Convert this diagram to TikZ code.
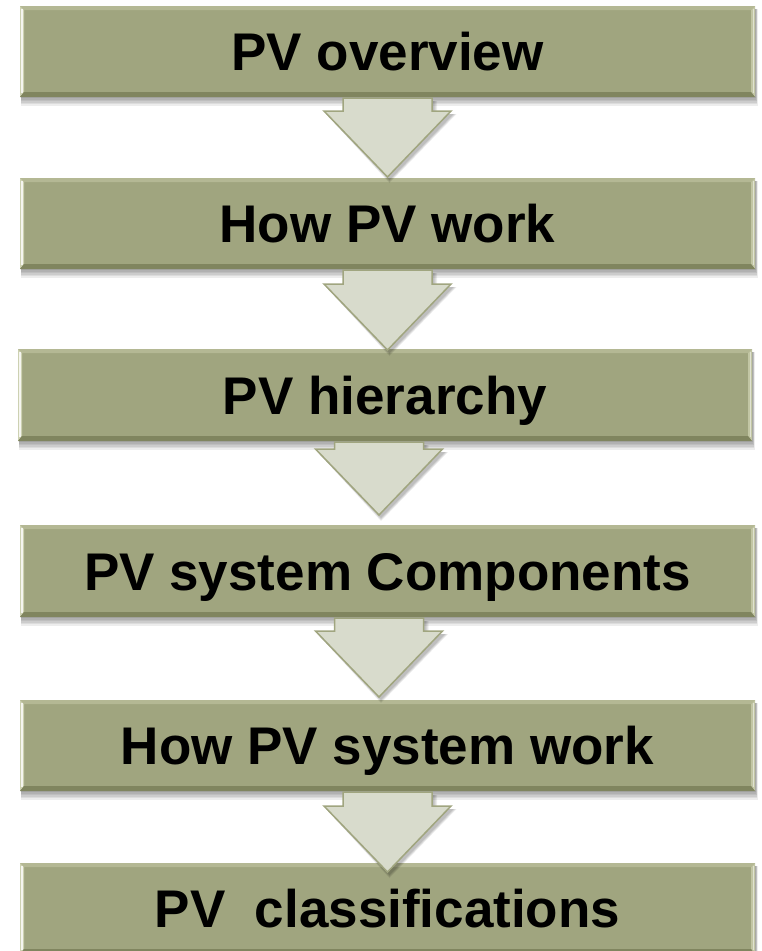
\documentclass[tikz,border=0pt]{standalone}
\usepackage{fontspec}
\setmainfont{Liberation Sans}
\usetikzlibrary{calc}
\definecolor{boxfill}{HTML}{A0A57F}
\definecolor{bvleft}{HTML}{CDD1B2}
\definecolor{bvtop}{HTML}{B4B894}
\definecolor{bvright}{HTML}{C2C6A4}
\definecolor{bvbottom}{HTML}{80855F}
\definecolor{arrfill}{HTML}{D8DBCC}
\definecolor{arrline}{HTML}{A0A57F}
\tikzset{
  pvbox/.style={rectangle, fill=boxfill, draw=none, inner sep=0pt, outer sep=0pt,
    font=\fontsize{53}{60}\selectfont\bfseries, text height=38pt, text depth=0pt},
  flowarr/.style={fill=arrfill, draw=arrline, line width=1.5pt, line join=miter},
  shadowfill/.style={fill=black, opacity=0.07},
}
\newcommand{\pvboxdraw}[6]{%
  \foreach \k in {0,...,5} {\fill[shadowfill] (#2+1,#3+3) rectangle (#4+1+0.3*\k,#5+1+1.5*\k);}
  \node[pvbox, minimum width={(#4-#2)*1pt}, minimum height={(#5-#3)*1pt}] (#1) at ({(#2+#4)/2},{(#3+#5)/2}) {#6};
  \fill[bvtop] (#1.north west) -- (#1.north east) -- ++(-4,4) -- ($(#1.north west)+(4,4)$) -- cycle;
  \fill[bvleft] (#1.north west) -- ($(#1.north west)+(4,4)$) -- ($(#1.south west)+(4,-5)$) -- (#1.south west) -- cycle;
  \fill[bvright] (#1.north east) -- (#1.south east) -- ++(-4,-5) -- ($(#1.north east)+(-4,4)$) -- cycle;
  \fill[bvbottom] (#1.south west) -- (#1.south east) -- ++(-4,-5) -- ($(#1.south west)+(4,-5)$) -- cycle;
  \draw[white, opacity=0.8, line width=1.2pt] ($(#1.north west)+(2,3)$) -- ($(#1.south west)+(2,-4)$);
  \draw[white, opacity=0.5, line width=1pt] ($(#1.north east)+(-2,3)$) -- ($(#1.south east)+(-2,-4)$);
}
% #1 centre x, #2 half shaft, #3 shaft top y, #4 head y, #5 tip y
\newcommand{\flowarrowdraw}[5]{%
  \foreach \k in {0,...,3} {\fill[shadowfill] (#1-#2+2,#3+3) -- (#1+#2+2+\k,#3+3) -- (#1+#2+2+\k,#4+3) -- (#1+64+2+\k,#4+3) -- (#1+2,#5+3+\k) -- (#1-63.5+2,#4+3) -- (#1-#2+2,#4+3) -- cycle;}
  \draw[flowarr] (#1-#2,#3) -- (#1+#2,#3) -- (#1+#2,#4) -- (#1+63.5,#4) -- (#1,#5) -- (#1-63.5,#4) -- (#1-#2,#4) -- cycle;
}
\begin{document}
\begin{tikzpicture}[x=1pt,y=-1pt]
\useasboundingbox (0,0) rectangle (761,951);
\pvboxdraw{b1}{20}{6}{755}{97}{PV overview}
\pvboxdraw{b2}{20}{178}{755}{269}{How PV work}
\pvboxdraw{b3}{18}{349}{752}{441}{PV hierarchy}
\pvboxdraw{b4}{20}{525}{755}{617}{PV system Components}
\pvboxdraw{b5}{20}{700}{755}{791}{How PV system work}
\pvboxdraw{b6}{20}{863}{755}{954}{PV\ \ classifications}
\flowarrowdraw{387.5}{44.5}{98}{111}{177}
\flowarrowdraw{387.5}{44.5}{270}{284}{350}
\flowarrowdraw{379}{44.5}{442}{449}{515}
\flowarrowdraw{379}{44.5}{618}{631}{697}
\flowarrowdraw{387.5}{44.5}{792}{806}{872}
\end{tikzpicture}
\end{document}
